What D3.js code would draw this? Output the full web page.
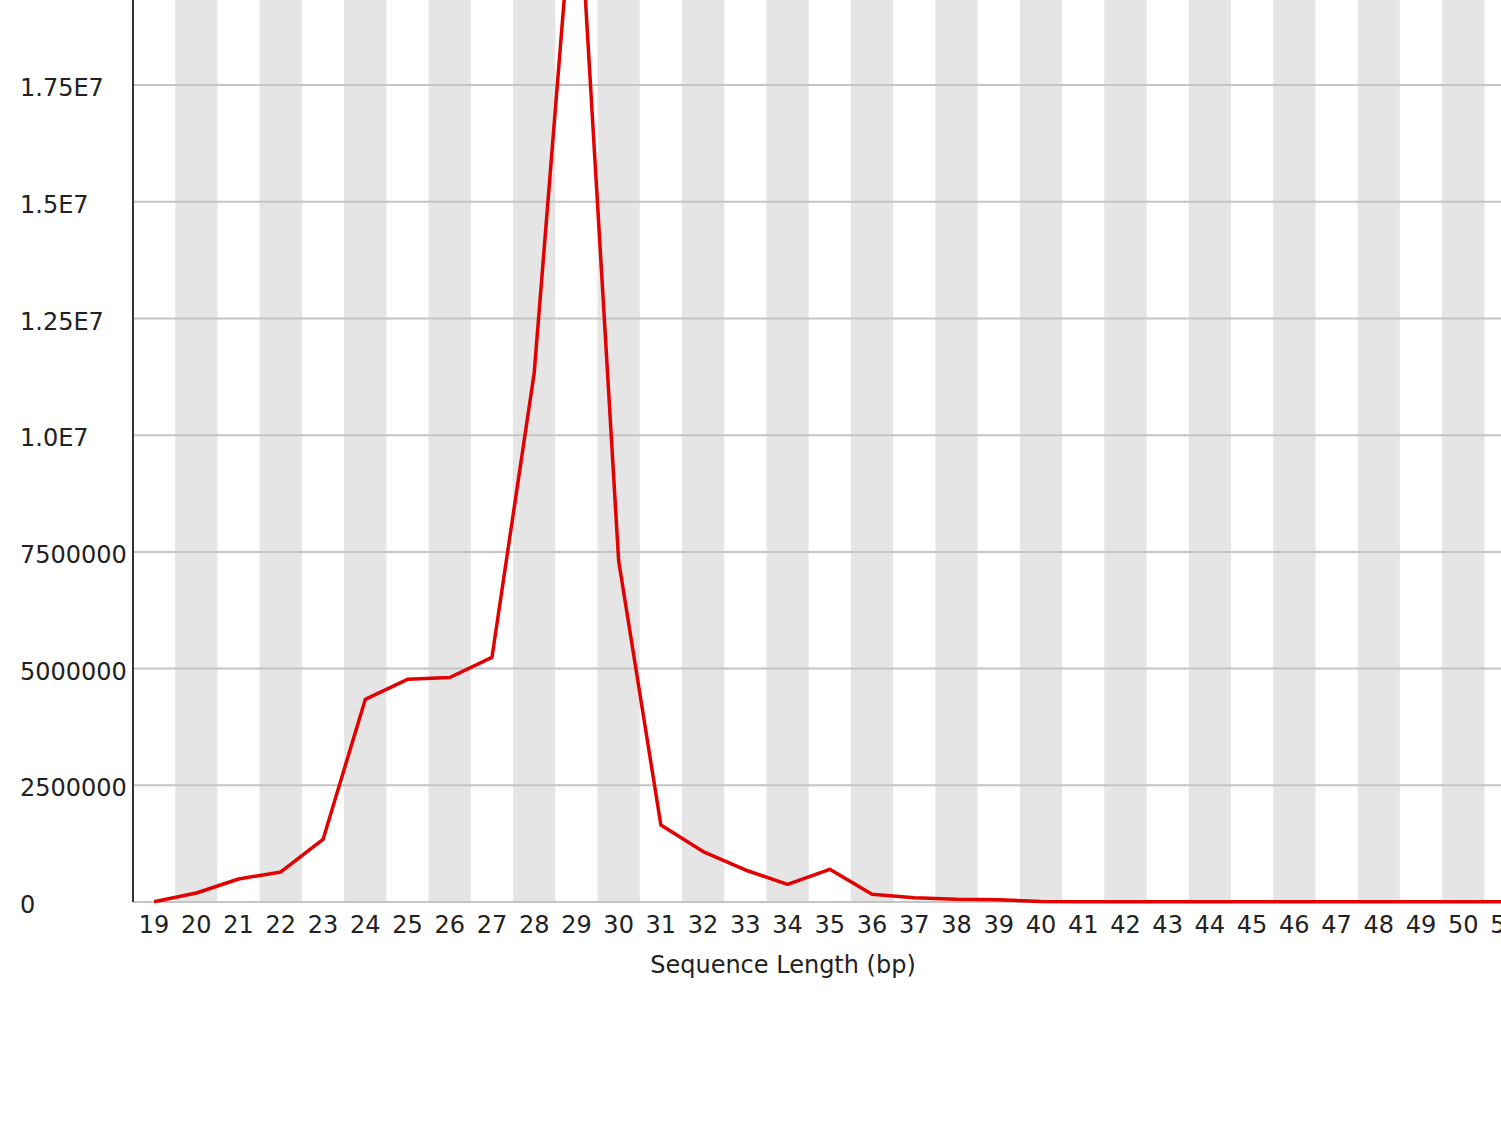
<!DOCTYPE html>
<html>
<head>
<meta charset="utf-8">
<script src="https://cdn.jsdelivr.net/npm/d3@7"></script>
<style>
  body { margin: 0; background: #fff; }
  svg { display: block; font-family: "DejaVu Sans", sans-serif; }
</style>
</head>
<body>
<div id="chart"></div>
<script>
// Sequence length distribution
const lengths = d3.range(19, 52);
const counts = [
    5000, 193000, 493000, 643000, 1340000, 4340000, 4770000, 4810000, 5240000, 11330000,
    22600000, 7310000, 1650000, 1080000, 686000, 379000, 700000, 165000, 92000, 58000,
    50000, 10000, 5000, 5000, 5000, 5000, 5000, 5000, 5000, 5000,
    5000, 5000, 5000
];
const yTicks = [0, 2500000, 5000000, 7500000, 10000000, 12500000, 15000000, 17500000];
const yTickLabels = ["0", "2500000", "5000000", "7500000", "1.0E7", "1.25E7", "1.5E7", "1.75E7"];

const width = 1501;
const height = 1132;
const left = 133;
const bandW = 42.23;
const zeroY = 902;
const pxPerStep = 116.7; // pixels per 2.5M

const svg = d3.select('#chart')
    .append('svg')
    .attr('width', width)
    .attr('height', height);

const x = d3.scaleBand()
    .domain(lengths)
    .range([left, left + bandW * lengths.length])
    .padding(0);

const y = d3.scaleLinear()
    .domain([0, 25000000])
    .range([zeroY, zeroY - 10 * pxPerStep]);

// Alternating bands
svg.append("g")
    .selectAll("rect")
    .data(lengths.filter((d, i) => i % 2 === 1))
    .join("rect")
    .attr("x", d => x(d))
    .attr("y", 0)
    .attr("width", x.bandwidth())
    .attr("height", zeroY)
    .style("fill", "#e5e5e5");

// Horizontal grid lines
svg.append("g")
    .selectAll("line")
    .data(yTicks)
    .join("line")
    .attr("x1", left)
    .attr("x2", width)
    .attr("y1", d => y(d))
    .attr("y2", d => y(d))
    .style("stroke", "#c4c4c4")
    .style("stroke-width", 2);

// Y axis line
svg.append("line")
    .attr("x1", left)
    .attr("x2", left)
    .attr("y1", 0)
    .attr("y2", zeroY)
    .style("stroke", "#333")
    .style("stroke-width", 2);

// Y tick labels
svg.append("g")
    .selectAll("text")
    .data(yTicks)
    .join("text")
    .attr("x", 20)
    .attr("y", d => y(d) + 11)
    .style("font-size", "24px")
    .style("fill", "#222")
    .text((d, i) => yTickLabels[i]);

// X tick labels
svg.append("g")
    .selectAll("text")
    .data(lengths)
    .join("text")
    .attr("x", d => x(d) + x.bandwidth() / 2)
    .attr("y", 933)
    .attr("text-anchor", "middle")
    .style("font-size", "24px")
    .style("fill", "#222")
    .text(d => d);

// X axis title
svg.append("text")
    .attr("x", 783)
    .attr("y", 973)
    .attr("text-anchor", "middle")
    .style("font-size", "24px")
    .style("fill", "#222")
    .text("Sequence Length (bp)");

// Data line
const line = d3.line()
    .x((d, i) => x(lengths[i]) + x.bandwidth() / 2)
    .y(d => y(d));

svg.append("path")
    .datum(counts)
    .attr("d", line)
    .style("fill", "none")
    .style("stroke", "#e30000")
    .style("stroke-width", 3.5)
    .style("stroke-linejoin", "round");
</script>
</body>
</html>
